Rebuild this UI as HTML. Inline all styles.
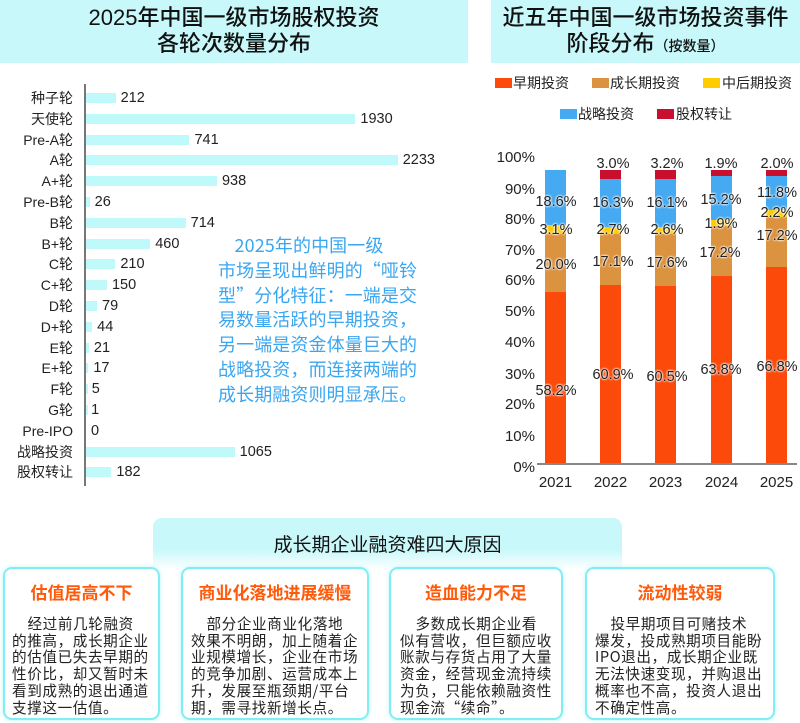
<!DOCTYPE html>
<html><head><meta charset="utf-8"><style>
*{margin:0;padding:0;box-sizing:border-box}
body{width:800px;height:723px;background:#fff;position:relative;overflow:hidden;font-family:"Liberation Sans","Noto Sans CJK SC",sans-serif;color:#222}
.a{position:absolute;white-space:nowrap}
.tb{background:#c8f8fa;position:absolute}
.t{font-size:22px;text-align:center;line-height:26px;color:#111;font-weight:500}
.cat{position:absolute;right:727px;font-size:14px;line-height:16px;text-align:right}
.bar{position:absolute;left:86px;height:10px;background:#bff9fa}
.val{position:absolute;font-size:14.5px;line-height:16px}
.sw{position:absolute;width:17px;height:10px}
.lg{position:absolute;font-size:14px;line-height:16px}
.yl{position:absolute;right:265px;font-size:15px;line-height:16px}
.dl{position:absolute;font-size:14.5px;line-height:16px;transform:translate(-50%,-50%);text-shadow:0 0 2px #fff,0 0 2px #fff,0 0 2px #fff}
.seg{position:absolute;width:21px}
.card{position:absolute;top:567px;height:153px;background:#fff;border:2px solid #80eef4;border-radius:9px;box-shadow:0 0 4px #b8f6f8}
.ct{position:absolute;top:10px;left:0;right:0;text-align:center;color:#ff5a0a;font-weight:bold;font-size:17px}
.cb{position:absolute;top:47px;left:7px;font-size:14.6px;line-height:16.7px;white-space:pre;letter-spacing:0.6px;font-family:"Noto Sans CJK SC","Liberation Sans",sans-serif}
</style></head><body>
<div class="tb" style="left:0;top:0;width:468px;height:63px"></div>
<div class="a t" style="left:0;width:468px;top:5px">2025年中国一级市场股权投资<br>各轮次数量分布</div>
<div class="tb" style="left:491px;top:0;width:309px;height:63px"></div>
<div class="a t" style="left:491px;width:309px;top:5px">近五年中国一级市场投资事件<br>阶段分布<span style="font-size:14px">（按数量）</span></div>

<div class="a" style="left:84px;top:84px;width:2px;height:402px;background:#777"></div>
<div id="bars"></div>

<div class="a" style="left:218px;top:233px;font-size:18px;line-height:24.8px;color:#3aa6f0;white-space:pre;letter-spacing:0.1px;font-family:'Noto Sans CJK SC','Liberation Sans',sans-serif">    2025年的中国一级
市场呈现出鲜明的“哑铃
型”分化特征：一端是交
易数量活跃的早期投资，
另一端是资金体量巨大的
战略投资，而连接两端的
成长期融资则明显承压。</div>

<div class="sw" style="left:495px;top:78px;background:#fc4a0a"></div><div class="lg" style="left:513px;top:75px">早期投资</div>
<div class="sw" style="left:592px;top:78px;background:#dc9340"></div><div class="lg" style="left:610px;top:75px">成长期投资</div>
<div class="sw" style="left:703px;top:78px;background:#ffcc00"></div><div class="lg" style="left:722px;top:75px">中后期投资</div>
<div class="sw" style="left:560px;top:109px;background:#45aaf2"></div><div class="lg" style="left:578px;top:106px">战略投资</div>
<div class="sw" style="left:657px;top:109px;background:#c8102e"></div><div class="lg" style="left:676px;top:106px">股权转让</div>

<div id="stk"></div>
<div class="a" style="left:537px;top:463px;width:260px;height:2px;background:#888"></div>

<div class="a" style="left:153px;top:518px;width:469px;height:52px;border-radius:9px 9px 0 0;background:linear-gradient(#c8f8fa 60%,#fff)"></div>
<div class="a" style="left:153px;top:530px;width:469px;text-align:center;font-size:19px;color:#111">成长期企业融资难四大原因</div>

<div class="card" style="left:3px;width:157px"><div class="ct">估值居高不下</div><div class="cb">    经过前几轮融资
的推高，成长期企业
的估值已失去早期的
性价比，却又暂时未
看到成熟的退出通道
支撑这一估值。</div></div>
<div class="card" style="left:181px;width:188px"><div class="ct">商业化落地进展缓慢</div><div class="cb" style="left:8px">    部分企业商业化落地
效果不明朗，加上随着企
业规模增长，企业在市场
的竞争加剧、运营成本上
升，发展至瓶颈期/平台
期，需寻找新增长点。</div></div>
<div class="card" style="left:389px;width:174px"><div class="ct">造血能力不足</div><div class="cb" style="left:9px">    多数成长期企业看
似有营收，但巨额应收
账款与存货占用了大量
资金，经营现金流持续
为负，只能依赖融资性
现金流“续命”。</div></div>
<div class="card" style="left:585px;width:190px"><div class="ct">流动性较弱</div><div class="cb" style="left:8px">    投早期项目可赌技术
爆发，投成熟期项目能盼
IPO退出，成长期企业既
无法快速变现，并购退出
概率也不高，投资人退出
不确定性高。</div></div>

<script>
var cats=[["种子轮",212],["天使轮",1930],["Pre-A轮",741],["A轮",2233],["A+轮",938],["Pre-B轮",26],["B轮",714],["B+轮",460],["C轮",210],["C+轮",150],["D轮",79],["D+轮",44],["E轮",21],["E+轮",17],["F轮",5],["G轮",1],["Pre-IPO",0],["战略投资",1065],["股权转让",182]];
var h="";cats.forEach(function(c,i){var y=98+i*20.8;var w=c[1]*0.1396;
h+='<div class="cat" style="top:'+(y-8)+'px">'+c[0]+'</div>';
h+='<div class="bar" style="top:'+(y-5)+'px;width:'+Math.max(w,c[1]?1.5:0)+'px"></div>';
h+='<div class="val" style="left:'+(86+w+5)+'px;top:'+(y-8)+'px">'+c[1]+'</div>';});
document.getElementById("bars").innerHTML=h;
var s="";var yl=[158,190,220,251,281,312,343,375,405,437,468];
for(var i=0;i<=10;i++)s+='<div class="yl" style="top:'+(yl[i]-8)+'px">'+(100-i*10)+'%</div>';
var cols=["#fc4a0a","#dc9340","#ffcc00","#45aaf2","#c8102e"];
var d=[[58.2,20.0,3.1,18.6,0],[60.9,17.1,2.7,16.3,3.0],[60.5,17.6,2.6,16.1,3.2],[63.8,17.2,1.9,15.2,1.9],[66.8,17.2,2.2,11.8,2.0]];
var xs=[545,600,655,711,766],yrs=["2021","2022","2023","2024","2025"];
var k=2.93;
d.forEach(function(v,i){var b=463;v.forEach(function(p,j){var hh=p*k;b-=hh;if(p)s+='<div class="seg" style="left:'+xs[i]+'px;top:'+b+'px;height:'+hh+'px;background:'+cols[j]+'"></div>';});
s+='<div class="a" style="left:'+(xs[i]-15)+'px;top:474px;width:51px;text-align:center;font-size:15px">'+yrs[i]+'</div>';});
var L=[[556,391,"58.2%"],[556,265,"20.0%"],[556,230,"3.1%"],[556,202,"18.6%"],
[613,375,"60.9%"],[613,262,"17.1%"],[613,230,"2.7%"],[613,203,"16.3%"],[613,164,"3.0%"],
[667,377,"60.5%"],[667,263,"17.6%"],[667,230,"2.6%"],[667,203,"16.1%"],[667,164,"3.2%"],
[721,370,"63.8%"],[720,253,"17.2%"],[721,224,"1.9%"],[721,200,"15.2%"],[721,164,"1.9%"],
[777,367,"66.8%"],[777,236,"17.2%"],[777,213,"2.2%"],[777,193,"11.8%"],[777,164,"2.0%"]];
L.forEach(function(l){s+='<div class="dl" style="left:'+l[0]+'px;top:'+l[1]+'px">'+l[2]+'</div>';});
document.getElementById("stk").innerHTML=s;
</script>
</body></html>
